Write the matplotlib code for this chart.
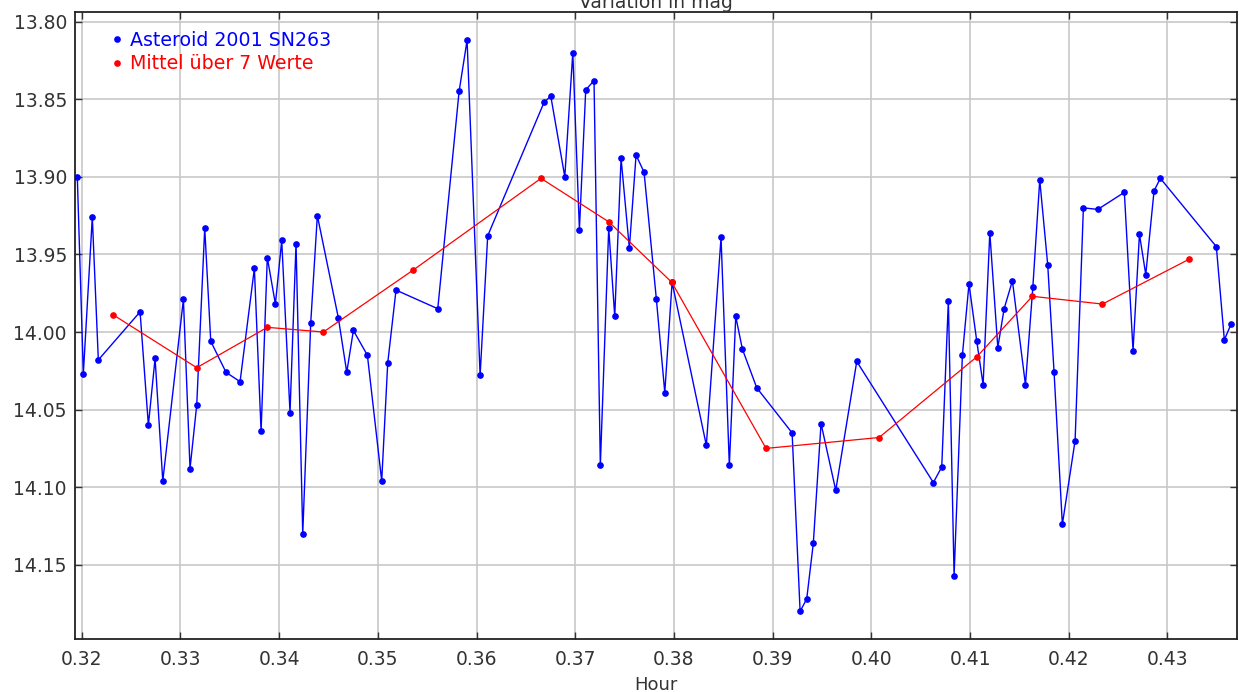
import numpy as np
import matplotlib.pyplot as plt
from matplotlib.lines import Line2D

# Asteroid 2001 SN263 measurements (hour, mag)
hour = [0.31955, 0.32016, 0.32107, 0.32168, 0.32591, 0.32675, 0.32743, 0.32821,
        0.33030, 0.33097, 0.33165, 0.33246, 0.33307, 0.33462, 0.33604, 0.33749,
        0.33817, 0.33880, 0.33962, 0.34026, 0.34110, 0.34171, 0.34239, 0.34320,
        0.34387, 0.34600, 0.34685, 0.34752, 0.34894, 0.35039, 0.35100, 0.35184,
        0.35607, 0.35823, 0.35904, 0.36036, 0.36113, 0.36684, 0.36752, 0.36894,
        0.36975, 0.37042, 0.37106, 0.37190, 0.37254, 0.37339, 0.37400, 0.37464,
        0.37548, 0.37616, 0.37697, 0.37822, 0.37907, 0.37981, 0.38328, 0.38477,
        0.38561, 0.38626, 0.38693, 0.38839, 0.39197, 0.39278, 0.39345, 0.39412,
        0.39490, 0.39639, 0.39852, 0.40628, 0.40713, 0.40780, 0.40838, 0.40922,
        0.40989, 0.41068, 0.41132, 0.41200, 0.41281, 0.41345, 0.41429, 0.41561,
        0.41636, 0.41706, 0.41787, 0.41851, 0.41935, 0.42064, 0.42148, 0.42294,
        0.42563, 0.42651, 0.42716, 0.42780, 0.42864, 0.42928, 0.43495, 0.43576,
        0.43644]
mag = [13.900, 14.027, 13.926, 14.018, 13.987, 14.060, 14.017, 14.096,
       13.979, 14.088, 14.047, 13.933, 14.006, 14.026, 14.032, 13.959,
       14.064, 13.952, 13.982, 13.941, 14.052, 13.943, 14.130, 13.994,
       13.925, 13.991, 14.026, 13.999, 14.015, 14.096, 14.020, 13.973,
       13.985, 13.845, 13.812, 14.028, 13.938, 13.852, 13.848, 13.900,
       13.820, 13.934, 13.844, 13.838, 14.086, 13.933, 13.990, 13.888,
       13.946, 13.886, 13.897, 13.979, 14.039, 13.968, 14.073, 13.939,
       14.086, 13.990, 14.011, 14.036, 14.065, 14.180, 14.172, 14.136,
       14.059, 14.102, 14.019, 14.097, 14.087, 13.980, 14.157, 14.015,
       13.969, 14.006, 14.034, 13.936, 14.010, 13.985, 13.967, 14.034,
       13.971, 13.902, 13.957, 14.026, 14.124, 14.070, 13.920, 13.921,
       13.910, 14.012, 13.937, 13.963, 13.909, 13.901, 13.945, 14.005,
       13.995]

# running mean over 7 values
mean_hour = [0.32320, 0.33165, 0.33880, 0.34448, 0.35360, 0.36653, 0.37339,
             0.37978, 0.38933, 0.40078, 0.41068, 0.41631, 0.42341, 0.43222]
mean_mag = [13.989, 14.023, 13.997, 14.000, 13.960, 13.901, 13.929,
            13.968, 14.075, 14.068, 14.016, 13.977, 13.982, 13.953]

xticks = [0.32, 0.33, 0.34, 0.35, 0.36, 0.37, 0.38, 0.39, 0.40, 0.41, 0.42, 0.43]
yticks = [13.80, 13.85, 13.90, 13.95, 14.00, 14.05, 14.10, 14.15]

plt.rcParams['font.family'] = ['DejaVu Sans']
fig = plt.figure(figsize=(12.39, 6.92), dpi=100)
ax = fig.add_axes([0.0608, 0.0762, 0.9374, 0.906])

ax.plot(hour, mag, color='#0000ff', lw=1.0, marker='o', ms=3.8, zorder=3)
ax.plot(mean_hour, mean_mag, color='#ff0000', lw=0.9, marker='o', ms=3.8, zorder=4)

ax.set_xlim(0.31935, 0.43702)
ax.set_ylim(14.198, 13.794)
ax.set_xticks(xticks)
ax.set_xticklabels(['%.2f' % t for t in xticks])
ax.set_yticks(yticks)
ax.set_yticklabels(['%.2f' % t for t in yticks])
ax.grid(True, color='#c8c8c8', lw=1.2)
ax.set_axisbelow(True)
ax.tick_params(direction='in', length=5, width=1, top=True, right=True,
               labelsize=13.5, colors='#333333', pad=6)
ax.tick_params(axis='x', pad=8)
for s in ax.spines.values():
    s.set_linewidth(1.3)
    s.set_color('#222222')

ax.set_xlabel('Hour', fontsize=13, color='#333333', labelpad=5)
ax.set_title('Variation in mag', fontsize=13.5, color='#333333', pad=3)

handles = [Line2D([], [], color='#0000ff', marker='o', ms=3.8, ls='none'),
           Line2D([], [], color='#ff0000', marker='o', ms=3.8, ls='none')]
ax.legend(handles, ['Asteroid 2001 SN263', 'Mittel über 7 Werte'],
          loc='upper left', bbox_to_anchor=(0.024, 0.983), frameon=False,
          fontsize=13.7, labelcolor=['#0000ff', '#ff0000'], handlelength=0.6,
          handletextpad=0.4, labelspacing=0.25, borderaxespad=0)

fig.savefig('out.png', dpi=100)
